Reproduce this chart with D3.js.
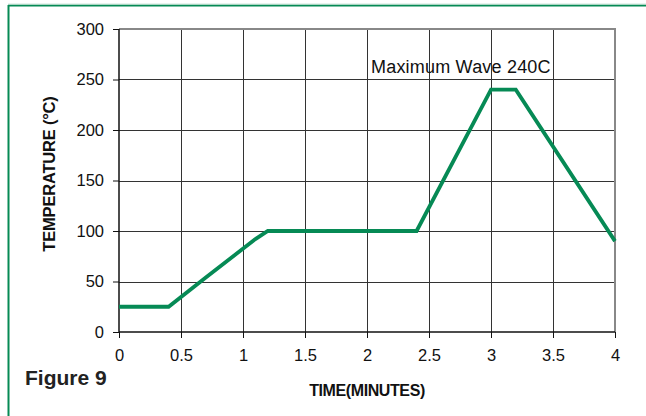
<!DOCTYPE html>
<html><head><meta charset="utf-8">
<script src="https://cdn.jsdelivr.net/npm/d3@7"></script>
<style>body{margin:0;background:#fff;}svg{display:block;font-family:Arial,"Liberation Sans",sans-serif;}</style>
</head><body>
<svg id="c" width="646" height="416"></svg>
<script>
const timeValues = [0, 0.4, 0.7, 1.1, 1.2, 2.4, 3.0, 3.2, 4.0];
const tempValues = [25, 25, 54, 92, 100, 100, 240, 240, 90];
const xTicks = [0, 0.5, 1, 1.5, 2, 2.5, 3, 3.5, 4];
const xTickLabels = ["0", "0.5", "1", "1.5", "2", "2.5", "3", "3.5", "4"];
const yTicks = [0, 50, 100, 150, 200, 250, 300];
const annotation = "Maximum Wave 240C";
const xTitle = "TIME(MINUTES)";
const yTitle = "TEMPERATURE (\u00B0C)";
const figLabel = "Figure 9";

const svg = d3.select("#c");
const green = "#068a55";
const x = d3.scaleLinear().domain([0, 4]).range([119, 615]);
const y = d3.scaleLinear().domain([0, 300]).range([332, 29]);

// frame
svg.append("line").attr("x1", 8).attr("x2", 646).attr("y1", 5.5).attr("y2", 5.5).attr("stroke", green).attr("stroke-width", 2);
svg.append("line").attr("x1", 8).attr("x2", 646).attr("y1", 4).attr("y2", 4).attr("stroke", "#cfe6dc").attr("stroke-width", 1);
svg.append("line").attr("x1", 8.5).attr("x2", 8.5).attr("y1", 5).attr("y2", 416).attr("stroke", green).attr("stroke-width", 2);

// grid
const g = svg.append("g");
g.selectAll(".vg").data(xTicks.slice(1, -1)).join("line")
  .attr("x1", d => Math.round(x(d)) + 0.5).attr("x2", d => Math.round(x(d)) + 0.5)
  .attr("y1", y(300)).attr("y2", y(0)).attr("stroke", "#333").attr("stroke-width", 1);
g.selectAll(".hg").data(yTicks.slice(1, -1)).join("line")
  .attr("y1", d => Math.round(y(d)) + 0.5).attr("y2", d => Math.round(y(d)) + 0.5)
  .attr("x1", x(0)).attr("x2", x(4)).attr("stroke", "#333").attr("stroke-width", 1);
// top & right border gray
g.append("line").attr("x1", x(0)).attr("x2", x(4) + 1).attr("y1", y(300)).attr("y2", y(300)).attr("stroke", "#888").attr("stroke-width", 2);
g.append("line").attr("x1", x(4)).attr("x2", x(4)).attr("y1", y(300)).attr("y2", y(0)).attr("stroke", "#888").attr("stroke-width", 2);

// axes
const yAxis = d3.axisLeft(y).tickValues(yTicks).tickSize(6).tickPadding(9).tickFormat(d3.format("d"));
const ya = svg.append("g").attr("transform", `translate(${x(0)},0)`).call(yAxis);
const xAxis = d3.axisBottom(x).tickValues(xTicks).tickSize(6).tickPadding(11).tickFormat((d, i) => xTickLabels[i]);
const xa = svg.append("g").attr("transform", `translate(0,${y(0)})`).call(xAxis);
[ya, xa].forEach(a => {
  a.attr("font-size", 16.5).attr("font-family", "Arial, 'Liberation Sans', sans-serif");
  a.select(".domain").attr("stroke", "#111").attr("stroke-width", 1.5);
  a.selectAll(".tick line").attr("stroke", "#111");
  a.selectAll(".tick text").attr("font-size", 16.5).attr("fill", "#111");
});
xa.select(".domain").attr("d", `M${x(0)},0H${x(4)}`);
ya.select(".domain").attr("d", `M0,${y(300)}V${y(0)}`);

// line
const pts = timeValues.map((t, i) => [t, tempValues[i]]);
svg.append("path").datum(pts)
  .attr("d", d3.line().x(d => x(d[0])).y(d => y(d[1])))
  .attr("fill", "none").attr("stroke", green).attr("stroke-width", 3.8).attr("stroke-linejoin", "miter");

// annotation
svg.append("text").attr("x", 371).attr("y", 73).attr("font-size", 18).attr("letter-spacing", 0.2).attr("fill", "#111").text(annotation);

// titles
svg.append("text").attr("x", 367).attr("y", 396).attr("text-anchor", "middle").attr("font-size", 16).attr("font-weight", "bold")
  .attr("letter-spacing", -0.4).attr("fill", "#111").text(xTitle);
svg.append("text").attr("transform", "translate(55,174) rotate(-90)").attr("text-anchor", "middle").attr("font-size", 16.5)
  .attr("font-weight", "bold").attr("letter-spacing", -0.2).attr("fill", "#111").text(yTitle);
svg.append("text").attr("x", 25).attr("y", 385).attr("font-size", 21).attr("font-weight", "bold").attr("fill", "#222").text(figLabel);
</script>
</body></html>
